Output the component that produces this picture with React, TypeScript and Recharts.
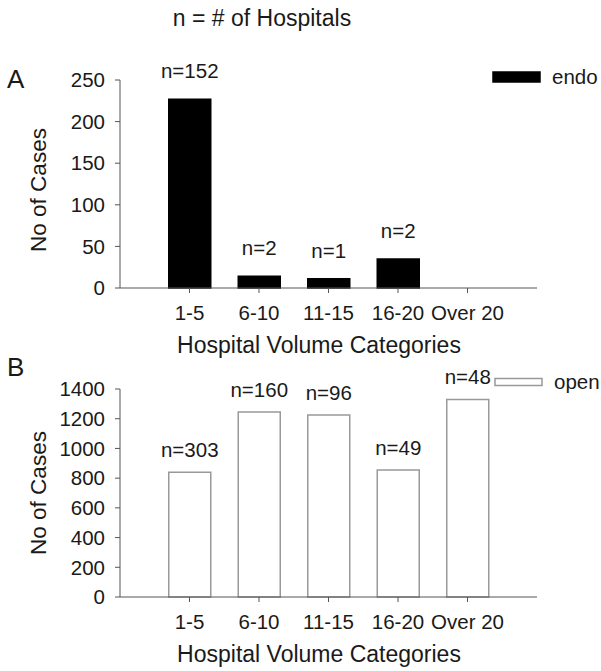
import { BarChart, Bar, XAxis, YAxis, LabelList, Legend } from "recharts";

const categories = ["1-5", "6-10", "11-15", "16-20", "Over 20"];

const endoCases = [227, 14, 11, 35, 0];
const endoHospitals = ["n=152", "n=2", "n=1", "n=2", ""];
const endoTicks = [0, 50, 100, 150, 200, 250];

const openCases = [840, 1245, 1225, 855, 1330];
const openHospitals = ["n=303", "n=160", "n=96", "n=49", "n=48"];
const openTicks = [0, 200, 400, 600, 800, 1000, 1200, 1400];

const FONT = "'Liberation Sans', Arial, sans-serif";
const TEXT = "#1a1a1a";
const AXIS = "#555";

type PanelProps = {
  top: number;
  letter: string;
  letterY: number;
  cases: number[];
  hospitals: string[];
  ticks: number[];
  fill: string;
  stroke: string;
  legendName: string;
  legendTop: number;
  legendLeft: number;
  iconHeight: number;
  labelOffset: number;
  yTitleY: number;
  title?: string;
};

function Panel(p: PanelProps) {
  const rows = categories.map((c, i) => ({
    category: c,
    cases: p.cases[i],
    hospitals: p.hospitals[i],
  }));
  const max = p.ticks[p.ticks.length - 1];

  return (
    <BarChart
      width={601}
      height={362}
      data={rows}
      margin={{ top: 80, right: 64, bottom: 0, left: 60 }}
      style={{ position: "absolute", left: 0, top: p.top, fontFamily: FONT }}
    >
      <XAxis
        dataKey="category"
        interval={0}
        padding={{ left: 34.75, right: 34.75 }}
        height={74}
        tickSize={5}
        tickMargin={12}
        stroke={AXIS}
        tick={{ fill: TEXT, fontSize: 20.5 }}
      />
      <YAxis
        domain={[0, max]}
        ticks={p.ticks}
        interval={0}
        width={60}
        tickSize={5}
        tickMargin={10}
        stroke={AXIS}
        tick={{ fill: TEXT, fontSize: 20.5 }}
      />
      <Bar
        dataKey="cases"
        name={p.legendName}
        fill={p.fill}
        stroke={p.stroke}
        strokeWidth={1.5}
        barSize={42}
        isAnimationActive={false}
      >
        <LabelList
          dataKey="hospitals"
          position="top"
          offset={p.labelOffset}
          fill={TEXT}
          fontSize={20.5}
        />
      </Bar>
      <Legend
        layout="horizontal"
        verticalAlign="middle"
        align="center"
        wrapperStyle={{ top: p.legendTop, left: p.legendLeft, width: 110 }}
        content={() => (
          <div style={{ display: "flex", alignItems: "center", fontFamily: FONT }}>
            <svg width={50} height={12} style={{ display: "block" }}>
              <rect
                x={1}
                y={(12 - p.iconHeight) / 2}
                width={47}
                height={p.iconHeight}
                fill={p.fill}
                stroke={p.stroke}
                strokeWidth={1.5}
              />
            </svg>
            <span style={{ marginLeft: 10, fontSize: 20.5, color: TEXT }}>
              {p.legendName}
            </span>
          </div>
        )}
      />
      {p.title && (
        <text x={262} y={26} textAnchor="middle" fontSize={23} fill={TEXT}>
          {p.title}
        </text>
      )}
      <text x={7} y={p.letterY} fontSize={26} fill={TEXT}>
        {p.letter}
      </text>
      <text
        transform={`translate(38,${p.yTitleY}) rotate(-90)`}
        textAnchor="middle"
        dominantBaseline="central"
        fontSize={22.5}
        fill={TEXT}
      >
        No of Cases
      </text>
      <text x={319} y={353} textAnchor="middle" fontSize={23} fill={TEXT}>
        Hospital Volume Categories
      </text>
    </BarChart>
  );
}

export default function App() {
  return (
    <div
      style={{
        position: "absolute",
        left: 0,
        top: 0,
        width: 601,
        height: 671,
        background: "#fff",
        fontFamily: FONT,
      }}
    >
      <Panel
        top={0}
        letter="A"
        letterY={88}
        cases={endoCases}
        hospitals={endoHospitals}
        ticks={endoTicks}
        fill="#000"
        stroke="#000"
        legendName="endo"
        legendTop={65}
        legendLeft={492}
        iconHeight={10}
        labelOffset={21}
        yTitleY={190}
        title="n = # of Hospitals"
      />
      <Panel
        top={309}
        letter="B"
        letterY={67}
        cases={openCases}
        hospitals={openHospitals}
        ticks={openTicks}
        fill="#fff"
        stroke="#999"
        legendName="open"
        legendTop={61}
        legendLeft={494}
        iconHeight={7}
        labelOffset={15}
        yTitleY={184}
      />
    </div>
  );
}
